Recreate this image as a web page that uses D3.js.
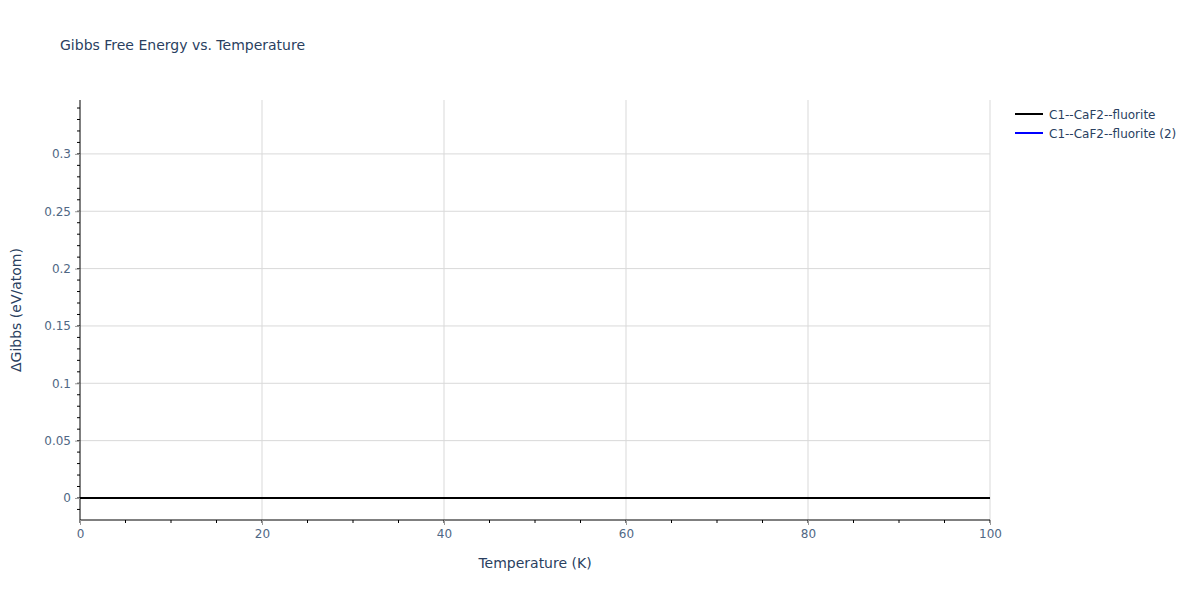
<!DOCTYPE html>
<html>
<head>
    <title>Gibbs Free Energy vs. Temperature</title>
    <script src="https://d3js.org/d3.v7.min.js"></script>
    <style>
        body { margin: 0; background: #fff; }
        text { font-family: "DejaVu Sans", verdana, arial, sans-serif; }
    </style>
</head>
<body>
<script>
// Data
const temperature = [0, 10, 20, 30, 40, 50, 60, 70, 80, 90, 100];
const gibbsBlack = [0, 0, 0, 0, 0, 0, 0, 0, 0, 0, 0];
const gibbsBlue = [0, 0, 0, 0, 0, 0, 0, 0, 0, 0, 0];
const seriesNames = ["C1--CaF2--fluorite", "C1--CaF2--fluorite (2)"];
const seriesColors = ["#000000", "#0000ff"];
const xTicks = [0, 20, 40, 60, 80, 100];
const yTicks = [0, 0.05, 0.1, 0.15, 0.2, 0.25, 0.3];

const W = 1200, H = 600;
const margin = {top: 100, right: 210, bottom: 80, left: 80};
const width = W - margin.left - margin.right,
      height = H - margin.top - margin.bottom;
const font = '"DejaVu Sans", verdana, arial, sans-serif';

const svg = d3.select("body").append("svg")
    .attr("width", W)
    .attr("height", H);

const g = svg.append("g")
    .attr("transform", `translate(${margin.left},${margin.top})`);

const x = d3.scaleLinear().domain([0, 100]).range([0, width]);
const y = d3.scaleLinear().domain([-0.0192, 0.347]).range([height, 0]);

// Gridlines
g.append("g").selectAll("line")
    .data(xTicks.filter(d => d !== 0))
    .join("line")
    .attr("x1", d => x(d)).attr("x2", d => x(d))
    .attr("y1", 0).attr("y2", height)
    .attr("stroke", "#d9d9d9").attr("stroke-width", 1);

g.append("g").selectAll("line")
    .data(yTicks.filter(d => d !== 0))
    .join("line")
    .attr("x1", 0).attr("x2", width)
    .attr("y1", d => y(d)).attr("y2", d => y(d))
    .attr("stroke", "#d9d9d9").attr("stroke-width", 1);

// Minor ticks
const xMinor = d3.range(0, 100.01, 5);
const yMinor = d3.range(-0.01, 0.341, 0.01);

g.append("g").selectAll("line")
    .data(xMinor)
    .join("line")
    .attr("x1", d => x(d)).attr("x2", d => x(d))
    .attr("y1", height).attr("y2", height + 3)
    .attr("stroke", "#000").attr("stroke-width", 1);

g.append("g").selectAll("line")
    .data(yMinor)
    .join("line")
    .attr("x1", -3).attr("x2", 0)
    .attr("y1", d => y(d)).attr("y2", d => y(d))
    .attr("stroke", "#000").attr("stroke-width", 1);

// Axes
const xAxis = g.append("g")
    .attr("transform", `translate(0,${height})`)
    .call(d3.axisBottom(x).tickValues(xTicks).tickSize(5).tickPadding(4).tickFormat(d3.format("d")));
const yAxis = g.append("g")
    .call(d3.axisLeft(y).tickValues(yTicks).tickSize(5).tickPadding(4).tickFormat(d => d === 0 ? "0" : String(+d.toFixed(2))));

[xAxis, yAxis].forEach(a => {
    a.select(".domain").attr("stroke", "#000").attr("stroke-width", 1);
    a.selectAll(".tick line").attr("stroke", "#999");
    a.selectAll(".tick text").attr("fill", "#506784").attr("font-size", 12)
        .style("font-family", font);
});
xAxis.select(".domain").attr("d", `M0,0H${width}`);
yAxis.select(".domain").attr("d", `M0,${height}V0`);

// Lines
const seriesData = [gibbsBlack, gibbsBlue];
const line = d3.line()
    .x((d, i) => x(temperature[i]))
    .y(d => y(d));

[1, 0].forEach(k => {
    g.append("path")
        .datum(seriesData[k])
        .attr("fill", "none")
        .attr("stroke", seriesColors[k])
        .attr("stroke-width", 2)
        .attr("d", line);
});

// Title
svg.append("text")
    .attr("x", 60).attr("y", 50)
    .attr("fill", "#2a3f5f").attr("font-size", 14)
    .text("Gibbs Free Energy vs. Temperature");

// Axis titles
svg.append("text")
    .attr("x", margin.left + width / 2).attr("y", 568)
    .attr("text-anchor", "middle")
    .attr("fill", "#2a3f5f").attr("font-size", 14)
    .text("Temperature (K)");

svg.append("text")
    .attr("transform", `translate(21,${margin.top + height / 2}) rotate(-90)`)
    .attr("text-anchor", "middle")
    .attr("fill", "#2a3f5f").attr("font-size", 14)
    .text("ΔGibbs (eV/atom)");

// Legend
const legend = svg.append("g").attr("transform", "translate(1015,114)");
seriesNames.forEach((name, i) => {
    const row = legend.append("g").attr("transform", `translate(0,${i * 19})`);
    row.append("line")
        .attr("x1", 0).attr("x2", 28)
        .attr("stroke", seriesColors[i]).attr("stroke-width", 2);
    row.append("text")
        .attr("x", 34).attr("y", 4.5)
        .attr("fill", "#2a3f5f").attr("font-size", 12)
        .text(name);
});
</script>
</body>
</html>
